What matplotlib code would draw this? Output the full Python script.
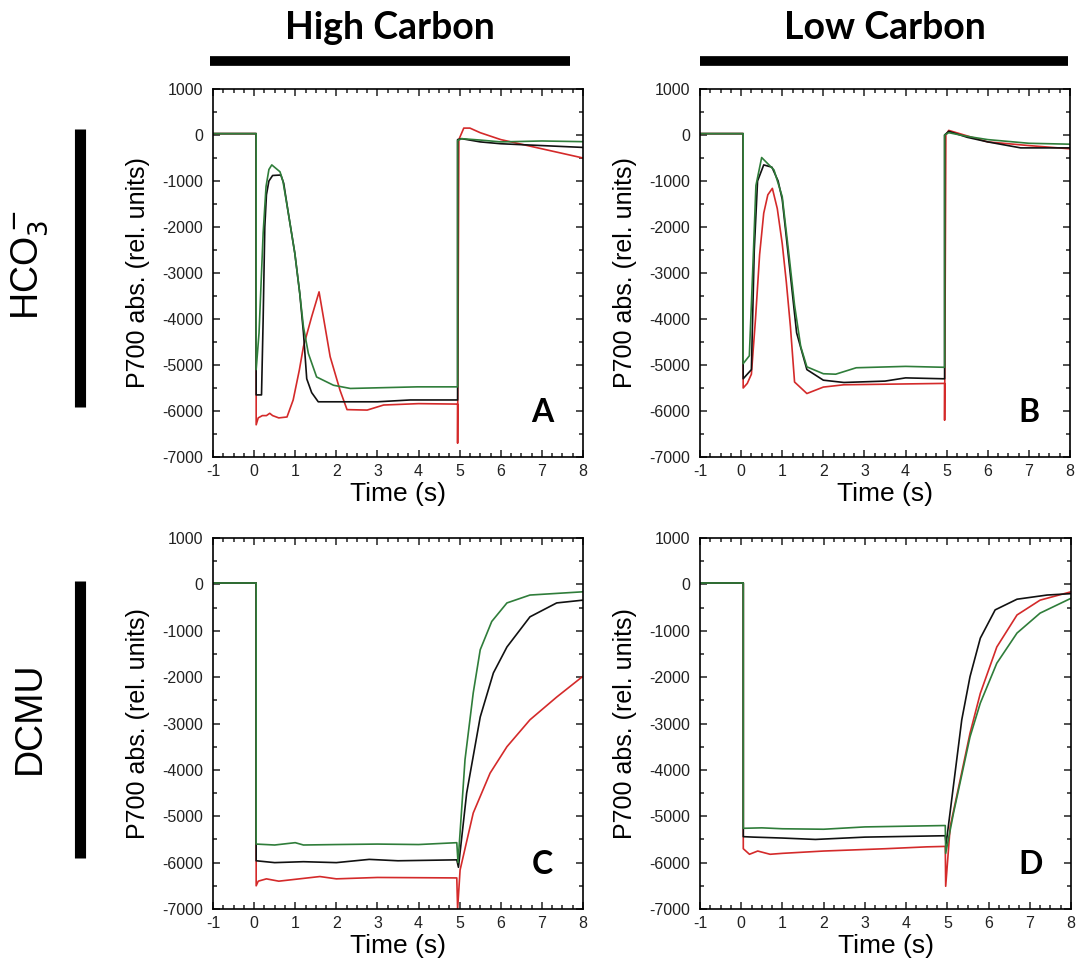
import numpy as np
import matplotlib
matplotlib.use("Agg")
import matplotlib.pyplot as plt
from matplotlib.ticker import MultipleLocator

plt.rcParams['font.family'] = ['Liberation Sans', 'DejaVu Sans']
plt.rcParams['axes.unicode_minus'] = False

# traces: time (s) and P700 signal (rel. units)
# panel A: HCO3-, high carbon
tA_black = [-1, 0.05, 0.05, 0.18, 0.22, 0.26, 0.3, 0.36, 0.45, 0.65, 0.72, 0.82, 0.99, 1.11, 1.2, 1.28, 1.4, 1.56, 2.0, 3.0, 3.8, 4.95, 4.95, 5.05, 5.5, 6.0, 7.0, 8.0]
yA_black = [30, 30, -5650, -5650, -4000, -2000, -1300, -1000, -880, -870, -1050, -1630, -2570, -3440, -4300, -5300, -5600, -5800, -5800, -5800, -5760, -5760, -100, -80, -150, -190, -230, -270]
tA_red = [-1, 0.05, 0.05, 0.1, 0.2, 0.3, 0.38, 0.45, 0.6, 0.8, 0.95, 1.1, 1.2, 1.4, 1.58, 1.85, 2.09, 2.26, 2.75, 3.15, 4.0, 4.95, 4.95, 4.98, 5.1, 5.25, 5.5, 6.0, 7.0, 8.0]
yA_red = [30, 30, -6300, -6150, -6100, -6100, -6050, -6100, -6150, -6130, -5760, -5110, -4600, -3950, -3410, -4820, -5550, -5970, -5980, -5870, -5840, -5850, -6700, -100, 150, 150, 50, -100, -300, -500]
tA_green = [-1, 0.05, 0.05, 0.12, 0.22, 0.29, 0.36, 0.43, 0.63, 0.7, 0.82, 0.99, 1.11, 1.2, 1.32, 1.52, 1.93, 2.34, 3.97, 4.95, 4.95, 5.05, 5.5, 6.0, 7.0, 8.0]
yA_green = [30, 30, -5100, -4300, -2130, -1120, -750, -650, -800, -1000, -1630, -2570, -3440, -4170, -4750, -5260, -5440, -5510, -5475, -5475, -120, -80, -110, -150, -130, -145]

# panel B: HCO3-, low carbon
tB_black = [-1, 0.05, 0.05, 0.25, 0.32, 0.4, 0.55, 0.75, 0.9, 1.0, 1.17, 1.35, 1.6, 2.0, 2.5, 3.5, 4.0, 4.95, 4.95, 5.05, 5.5, 6.0, 6.8, 8.0]
yB_black = [30, 30, -5300, -5100, -2500, -1000, -650, -700, -1000, -1400, -2800, -4300, -5100, -5330, -5380, -5350, -5280, -5300, 0, 80, -50, -150, -280, -280]
tB_red = [-1, 0.05, 0.05, 0.15, 0.25, 0.35, 0.45, 0.55, 0.65, 0.76, 0.88, 1.0, 1.1, 1.2, 1.3, 1.6, 2.0, 2.5, 4.95, 4.95, 4.98, 5.05, 5.5, 6.0, 7.0, 8.0]
yB_red = [30, 30, -5500, -5400, -5200, -4000, -2600, -1700, -1300, -1160, -1600, -2360, -3200, -4170, -5370, -5620, -5480, -5430, -5400, -6200, 0, 100, -20, -150, -230, -300]
tB_green = [-1, 0.05, 0.05, 0.2, 0.28, 0.36, 0.5, 0.8, 1.0, 1.17, 1.3, 1.45, 1.6, 2.0, 2.3, 2.8, 4.0, 4.95, 4.95, 5.05, 5.5, 6.0, 7.0, 8.0]
yB_green = [30, 30, -4970, -4800, -3000, -1100, -490, -760, -1340, -2650, -3700, -4600, -5040, -5190, -5200, -5060, -5030, -5050, 0, 50, -30, -100, -180, -200]

# panel C: DCMU, high carbon
tC_black = [-1, 0.05, 0.05, 0.5, 1.2, 2.0, 2.8, 3.5, 4.93, 4.97, 5.17, 5.5, 5.82, 6.15, 6.71, 7.36, 8.0]
yC_black = [30, 30, -5960, -6000, -5980, -6000, -5930, -5960, -5940, -6100, -4500, -2860, -1910, -1350, -700, -400, -340]
tC_red = [-1, 0.05, 0.05, 0.1, 0.3, 0.6, 1.1, 1.6, 2.0, 3.0, 4.93, 4.95, 5.01, 5.33, 5.74, 6.15, 6.71, 7.36, 8.0]
yC_red = [30, 30, -6500, -6400, -6350, -6400, -6350, -6300, -6350, -6320, -6330, -7000, -6160, -4930, -4070, -3500, -2920, -2430, -1980]
tC_green = [-1, 0.05, 0.05, 0.5, 1.0, 1.2, 2.0, 3.0, 4.0, 4.93, 4.96, 5.13, 5.33, 5.5, 5.78, 6.15, 6.71, 8.0]
yC_green = [30, 30, -5600, -5620, -5570, -5620, -5610, -5600, -5610, -5570, -6000, -3780, -2340, -1410, -800, -400, -230, -160]

# panel D: DCMU, low carbon
tD_black = [-1, 0.05, 0.05, 0.3, 1.0, 1.8, 3.0, 4.95, 4.97, 5.35, 5.55, 5.8, 6.16, 6.69, 7.42, 8.0]
yD_black = [30, 30, -5440, -5450, -5470, -5500, -5450, -5420, -5600, -2920, -1990, -1160, -550, -320, -230, -200]
tD_red = [-1, 0.05, 0.05, 0.2, 0.4, 0.7, 1.0, 2.0, 3.5, 4.5, 4.95, 4.96, 5.07, 5.31, 5.55, 5.8, 6.2, 6.69, 7.25, 8.0]
yD_red = [30, 30, -5700, -5820, -5750, -5820, -5800, -5750, -5700, -5660, -5650, -6510, -5220, -4220, -3210, -2350, -1350, -660, -340, -160]
tD_green = [-1, 0.05, 0.05, 0.5, 1.0, 2.0, 3.0, 4.95, 4.96, 5.15, 5.55, 5.8, 6.2, 6.69, 7.25, 8.0]
yD_green = [30, 30, -5260, -5250, -5270, -5280, -5230, -5200, -5800, -4930, -3290, -2560, -1700, -1050, -620, -300]

panel_letters = ['A', 'B', 'C', 'D']
column_titles = ['High Carbon', 'Low Carbon']
row_labels = ['HCO$_3^-$', 'DCMU']

RED = '#d42a2a'
GREEN = '#2f7d3a'
BLACK = '#111111'

panels = [
    (tA_black, yA_black, tA_red, yA_red, tA_green, yA_green),
    (tB_black, yB_black, tB_red, yB_red, tB_green, yB_green),
    (tC_black, yC_black, tC_red, yC_red, tC_green, yC_green),
    (tD_black, yD_black, tD_red, yD_red, tD_green, yD_green),
]

fig = plt.figure(figsize=(10.78, 9.76), dpi=100)
W, H = 1078.0, 976.0
# axes boxes in pixels: left, top, right, bottom
boxes = [(213, 89, 583, 457), (700, 89, 1070, 457), (213, 538, 583, 909), (700, 538, 1071, 909)]

for i, (box, data) in enumerate(zip(boxes, panels)):
    l, t, r, b = box
    ax = fig.add_axes([l / W, 1 - b / H, (r - l) / W, (b - t) / H])
    tb, yb, tr, yr, tg, yg = data
    ax.plot(tr, yr, color=RED, lw=1.2)
    ax.plot(tb, yb, color=BLACK, lw=1.2)
    ax.plot(tg, yg, color=GREEN, lw=1.2)
    ax.set_xlim(-1, 8)
    ax.set_ylim(-7000, 1000)
    ax.xaxis.set_major_locator(MultipleLocator(1))
    ax.xaxis.set_minor_locator(MultipleLocator(0.25))
    ax.yaxis.set_major_locator(MultipleLocator(1000))
    ax.yaxis.set_minor_locator(MultipleLocator(500))
    ax.tick_params(which='both', direction='in', top=True, right=True, width=1.1, colors='#222222')
    ax.tick_params(which='major', length=5, labelsize=11.5, pad=7)
    ax.tick_params(which='minor', length=3)
    ax.tick_params(axis='x', which='major', pad=5)
    for s in ax.spines.values():
        s.set_linewidth(1.2)
    ax.set_ylabel('P700 abs. (rel. units)', fontsize=18, labelpad=9)
    ax.set_xlabel('Time (s)', fontsize=19, labelpad=2)
    ax.text(0.89, 0.12, panel_letters[i], transform=ax.transAxes, fontsize=23,
            fontweight='bold', family='Lato', ha='center', va='center')

# column headers with black bars
for cx, x0, x1, title in [(390, 210, 570, column_titles[0]), (885, 700, 1068, column_titles[1])]:
    fig.text(cx / W, 1 - 28 / H, title, fontsize=27, fontweight='bold', family='Lato', ha='center', va='center')
    fig.add_artist(plt.Line2D([x0 / W, x1 / W], [1 - 60.5 / H, 1 - 60.5 / H], color='black', lw=7, solid_capstyle='butt'))

# row headers with black bars
for cy, y0, y1, label in [(265, 129, 407, row_labels[0]), (718, 581, 858, row_labels[1])]:
    fig.text(30 / W, 1 - cy / H, label, fontsize=27, rotation=90, ha='center', va='center')
    fig.add_artist(plt.Line2D([80 / W, 80 / W], [1 - y0 / H, 1 - y1 / H], color='black', lw=8, solid_capstyle='butt'))

fig.savefig('out.png', dpi=100)
